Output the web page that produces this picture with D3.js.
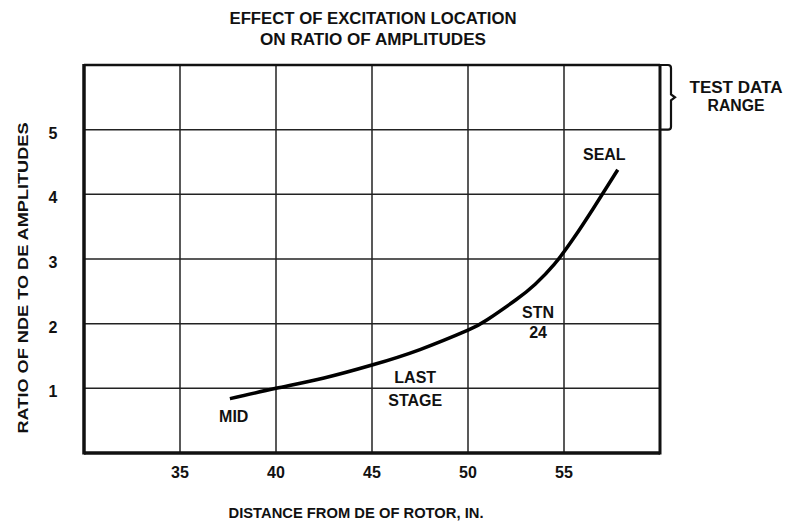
<!DOCTYPE html>
<html><head><meta charset="utf-8">
<script src="https://cdn.jsdelivr.net/npm/d3@7"></script>
<style>
body{margin:0;background:#fff;}
text{font-family:"Liberation Sans",Arial,sans-serif;font-weight:bold;fill:#111;}
</style></head>
<body><svg id="c" width="788" height="523"></svg>
<script>
const titleLines = ["EFFECT OF EXCITATION LOCATION", "ON RATIO OF AMPLITUDES"];
const xLabel = "DISTANCE FROM DE OF ROTOR, IN.";
const yLabel = "RATIO OF NDE TO DE AMPLITUDES";
const xTicks = [35, 40, 45, 50, 55];
const yTicks = [1, 2, 3, 4, 5];
const curveX = [37.6, 40, 42.5, 45, 47.5, 50, 51, 52.5, 53.5, 54.5, 55.5, 56.5, 57.8];
const curveY = [0.84, 1.0, 1.16, 1.36, 1.6, 1.9, 2.06, 2.37, 2.61, 2.92, 3.32, 3.77, 4.38];
const annotations = [
  {text:"SEAL", x:57.1, y:4.62},
  {text:"STN", x:53.65, y:2.18},
  {text:"24", x:53.65, y:1.87},
  {text:"LAST", x:47.25, y:1.17},
  {text:"STAGE", x:47.25, y:0.82},
  {text:"MID", x:37.8, y:0.57}
];
const bracketRange = [5, 6];
const bracketLabel = ["TEST DATA", "RANGE"];

const svg = d3.select("#c");
const x = d3.scaleLinear().domain([30, 60]).range([84, 660]);
const y = d3.scaleLinear().domain([0, 6]).range([453, 65]);

// grid
svg.append("g").selectAll("line").data(xTicks).join("line")
  .attr("x1", d => x(d)).attr("x2", d => x(d)).attr("y1", y(6)).attr("y2", y(0))
  .attr("stroke", "#222").attr("stroke-width", 1.5);
svg.append("g").selectAll("line").data(yTicks).join("line")
  .attr("x1", x(30)).attr("x2", x(60)).attr("y1", d => y(d)).attr("y2", d => y(d))
  .attr("stroke", "#222").attr("stroke-width", 1.5);

// frame
svg.append("line").attr("x1", x(30)).attr("x2", x(60)).attr("y1", y(6)).attr("y2", y(6)).attr("stroke", "#111").attr("stroke-width", 2.5);
svg.append("line").attr("x1", x(30)).attr("x2", x(60)).attr("y1", y(0)).attr("y2", y(0)).attr("stroke", "#111").attr("stroke-width", 3.5);
svg.append("line").attr("x1", x(30)).attr("x2", x(30)).attr("y1", y(6)-1).attr("y2", y(0)+1.5).attr("stroke", "#111").attr("stroke-width", 3.5);
svg.append("line").attr("x1", x(60)).attr("x2", x(60)).attr("y1", y(6)-1).attr("y2", y(0)+1.5).attr("stroke", "#111").attr("stroke-width", 3);

// bracket
const bx = x(60), by0 = y(bracketRange[1]), by1 = y(bracketRange[0]), bm = (by0+by1)/2;
svg.append("path")
  .attr("d", `M${bx},${by0} H${bx+8} Q${bx+11},${by0} ${bx+11},${by0+3} V${bm-3} L${bx+15},${bm} L${bx+11},${bm+3} V${by1-3} Q${bx+11},${by1} ${bx+8},${by1} H${bx}`)
  .attr("fill", "none").attr("stroke", "#111").attr("stroke-width", 2.2);
svg.selectAll("text.br").data(bracketLabel).join("text").attr("class", "br")
  .attr("x", 736).attr("y", (d, i) => 93 + i*18).attr("text-anchor", "middle")
  .attr("font-size", 16).attr("textLength", (d, i) => i ? 57 : 93)
  .attr("lengthAdjust", "spacingAndGlyphs").text(d => d);

// curve
const pts = curveX.map((d, i) => [d, curveY[i]]);
svg.append("path").datum(pts)
  .attr("d", d3.line().x(d => x(d[0])).y(d => y(d[1])).curve(d3.curveNatural))
  .attr("fill", "none").attr("stroke", "#000").attr("stroke-width", 3.5);

// annotations
svg.selectAll("text.ann").data(annotations).join("text").attr("class", "ann")
  .attr("x", d => x(d.x)).attr("y", d => y(d.y) + 6).attr("text-anchor", "middle")
  .attr("font-size", 16).text(d => d.text);

// tick labels
svg.selectAll("text.xt").data(xTicks).join("text").attr("class", "xt")
  .attr("x", d => x(d)).attr("y", 478).attr("text-anchor", "middle")
  .attr("font-size", 16).text(d => d);
svg.selectAll("text.yt").data(yTicks).join("text").attr("class", "yt")
  .attr("x", 53).attr("y", d => y(d) + 9).attr("text-anchor", "middle")
  .attr("font-size", 16).text(d => d);

// titles
svg.selectAll("text.t").data(titleLines).join("text").attr("class", "t")
  .attr("x", 373).attr("y", (d, i) => 24 + i*21).attr("text-anchor", "middle")
  .attr("font-size", 16).attr("textLength", (d, i) => i ? 226 : 287)
  .attr("lengthAdjust", "spacingAndGlyphs").text(d => d);
svg.append("text").attr("x", 356).attr("y", 518).attr("text-anchor", "middle")
  .attr("font-size", 15).attr("textLength", 255).attr("lengthAdjust", "spacingAndGlyphs").text(xLabel);
svg.append("text").attr("transform", "translate(28,278) rotate(-90)").attr("text-anchor", "middle")
  .attr("font-size", 15).attr("textLength", 311).attr("lengthAdjust", "spacingAndGlyphs").text(yLabel);
</script></body></html>
